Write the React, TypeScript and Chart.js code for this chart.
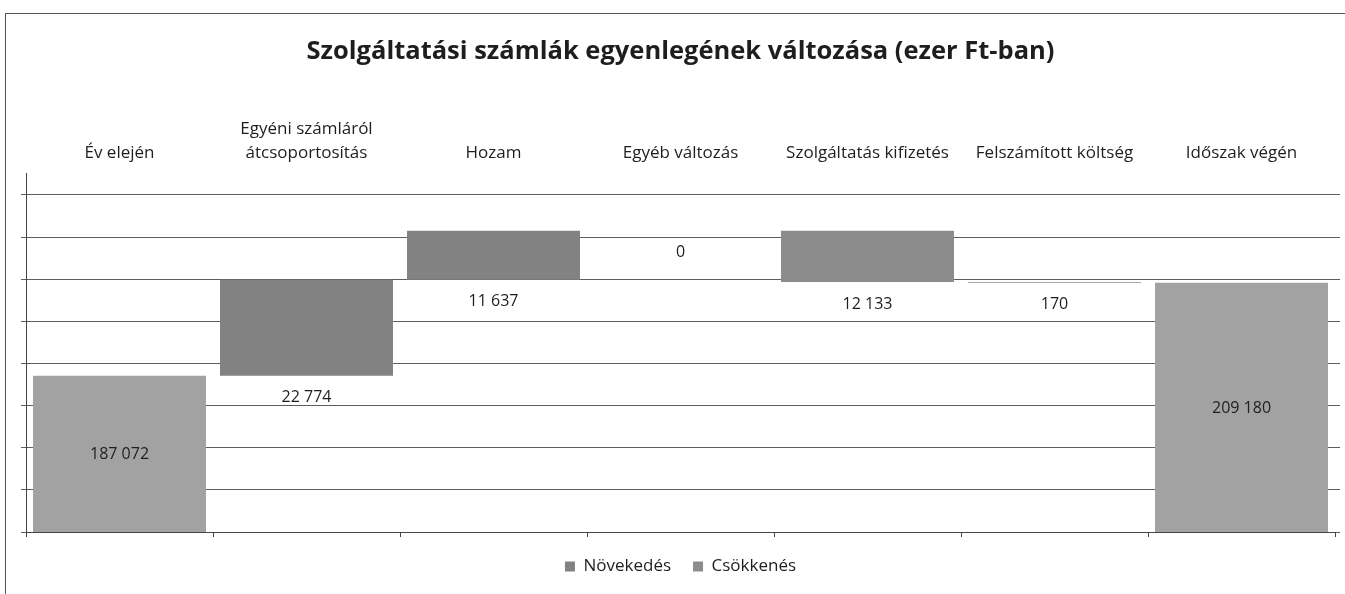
import { useEffect, useRef } from 'react';
import { Chart, registerables } from 'chart.js';

Chart.register(...registerables);

const titleText = 'Szolgáltatási számlák egyenlegének változása (ezer Ft-ban)';
const categories: (string | string[])[] = [
  'Év elején',
  ['Egyéni számláról', 'átcsoportosítás'],
  'Hozam',
  'Egyéb változás',
  'Szolgáltatás kifizetés',
  'Felszámított költség',
  'Időszak végén',
];
const openingBalance = 187072;
const changeValues = [22774, 11637, 0, -12133, -170];
const closingBalance = 209180;
const seriesNames = ['Egyenleg', 'Növekedés', 'Csökkenés'];
const axisMin = 150000;
const axisMax = 235000;
const gridValues = [150000, 160000, 170000, 180000, 190000, 200000, 210000, 220000, 230000];

const FONT = '"Open Sans", Lato, sans-serif';
const TEXT = '#1e1e1e';
const GRID = '#5e5e5e';

const n = categories.length;
const balanceData: ([number, number] | null)[] = Array(n).fill(null);
balanceData[0] = [0, openingBalance];
balanceData[n - 1] = [0, closingBalance];
const increaseData: ([number, number] | null)[] = Array(n).fill(null);
const decreaseData: ([number, number] | null)[] = Array(n).fill(null);
{
  let running = openingBalance;
  changeValues.forEach((v, k) => {
    const i = k + 1;
    const next = running + v;
    if (v >= 0) increaseData[i] = [running, next];
    else decreaseData[i] = [next, running];
    running = next;
  });
}
const labelValues = [openingBalance, ...changeValues, closingBalance];

const formatHu = (v: number) =>
  String(Math.round(Math.abs(v))).replace(/\B(?=(\d{3})+(?!\d))/g, ' ');

const setGridTicks = (axis: any) => {
  axis.ticks = gridValues.map((v) => ({ value: v }));
};

const labelPlugin = {
  id: 'waterfallLabels',
  afterDatasetsDraw(chart: any) {
    const { ctx, chartArea } = chart;
    const xs = chart.scales.x;
    const ys = chart.scales.y;
    ctx.save();
    ctx.font = `16px ${FONT}`;
    ctx.fillStyle = TEXT;
    ctx.textAlign = 'center';
    ctx.textBaseline = 'middle';
    for (let i = 0; i < n; i++) {
      const px = xs.getPixelForValue(i);
      let py: number;
      const bal = balanceData[i];
      if (bal) {
        const top = Math.max(ys.getPixelForValue(bal[1]), chartArea.top);
        py = (top + chartArea.bottom) / 2 + 1;
      } else {
        const range = (increaseData[i] || decreaseData[i]) as [number, number];
        py = ys.getPixelForValue(Math.min(range[0], range[1])) + 22;
      }
      ctx.fillText(formatHu(labelValues[i]), px, py);
    }
    ctx.restore();
  },
};

export default function App() {
  const ref = useRef<HTMLCanvasElement | null>(null);
  useEffect(() => {
    if (!ref.current) return;
    const barCommon = {
      grouped: false,
      barPercentage: 0.925,
      categoryPercentage: 1,
      borderWidth: 0,
      xAxisID: 'x',
      yAxisID: 'y',
    };
    const chart = new Chart(ref.current, {
      type: 'bar',
      data: {
        labels: categories as any,
        datasets: [
          { ...barCommon, label: seriesNames[0], data: balanceData as any, backgroundColor: '#a2a2a2' },
          { ...barCommon, label: seriesNames[1], data: increaseData as any, backgroundColor: '#828282' },
          { ...barCommon, label: seriesNames[2], data: decreaseData as any, backgroundColor: '#8c8c8c' },
        ],
      },
      options: {
        responsive: false,
        animation: false,
        layout: { padding: { left: 15, right: 5, top: 0, bottom: 9 } },
        plugins: {
          title: {
            display: true,
            text: titleText,
            color: TEXT,
            font: { family: FONT, size: 25.5, weight: 'bold' },
            padding: { top: 22, bottom: 42 },
          },
          legend: {
            display: true,
            position: 'bottom',
            labels: {
              color: TEXT,
              font: { family: FONT, size: 17 },
              boxWidth: 10,
              boxHeight: 10,
              padding: 22,
              filter: (item: any) => item.datasetIndex !== 0,
            },
          },
          tooltip: { enabled: false },
        },
        scales: {
          x: {
            type: 'category',
            position: 'bottom',
            offset: true,
            grid: { offset: true, drawOnChartArea: false, drawTicks: true, tickLength: 5, color: '#444' },
            border: { display: true, color: '#444' },
            ticks: { display: false },
            afterFit: (axis: any) => { axis.height = 4; },
          },
          x2: {
            type: 'category',
            position: 'top',
            offset: true,
            grid: { display: false, drawTicks: false },
            border: { display: false },
            ticks: {
              color: TEXT,
              font: { family: FONT, size: 17, lineHeight: 1.45 },
              padding: 8,
              maxRotation: 0,
              autoSkip: false,
            },
          },
          y: {
            type: 'linear',
            position: 'left',
            min: axisMin,
            max: axisMax,
            ticks: { display: false },
            afterBuildTicks: setGridTicks,
            grid: { color: GRID, lineWidth: 1, drawTicks: true, tickLength: 5 },
            border: { display: true, color: '#444' },
          },
          y2: {
            type: 'linear',
            position: 'right',
            min: axisMin,
            max: axisMax,
            ticks: { display: false },
            afterBuildTicks: setGridTicks,
            grid: { color: GRID, drawOnChartArea: false, drawTicks: true, tickLength: 5 },
            border: { display: false },
          },
        },
      } as any,
      plugins: [labelPlugin],
    });
    return () => chart.destroy();
  }, []);

  return (
    <div
      style={{
        position: 'absolute',
        left: 5,
        top: 13,
        width: 1340,
        height: 581,
        borderLeft: '1px solid #555',
        borderTop: '1px solid #555',
        background: '#fff',
      }}
    >
      <canvas ref={ref} width={1339} height={580} style={{ display: 'block' }} />
    </div>
  );
}
